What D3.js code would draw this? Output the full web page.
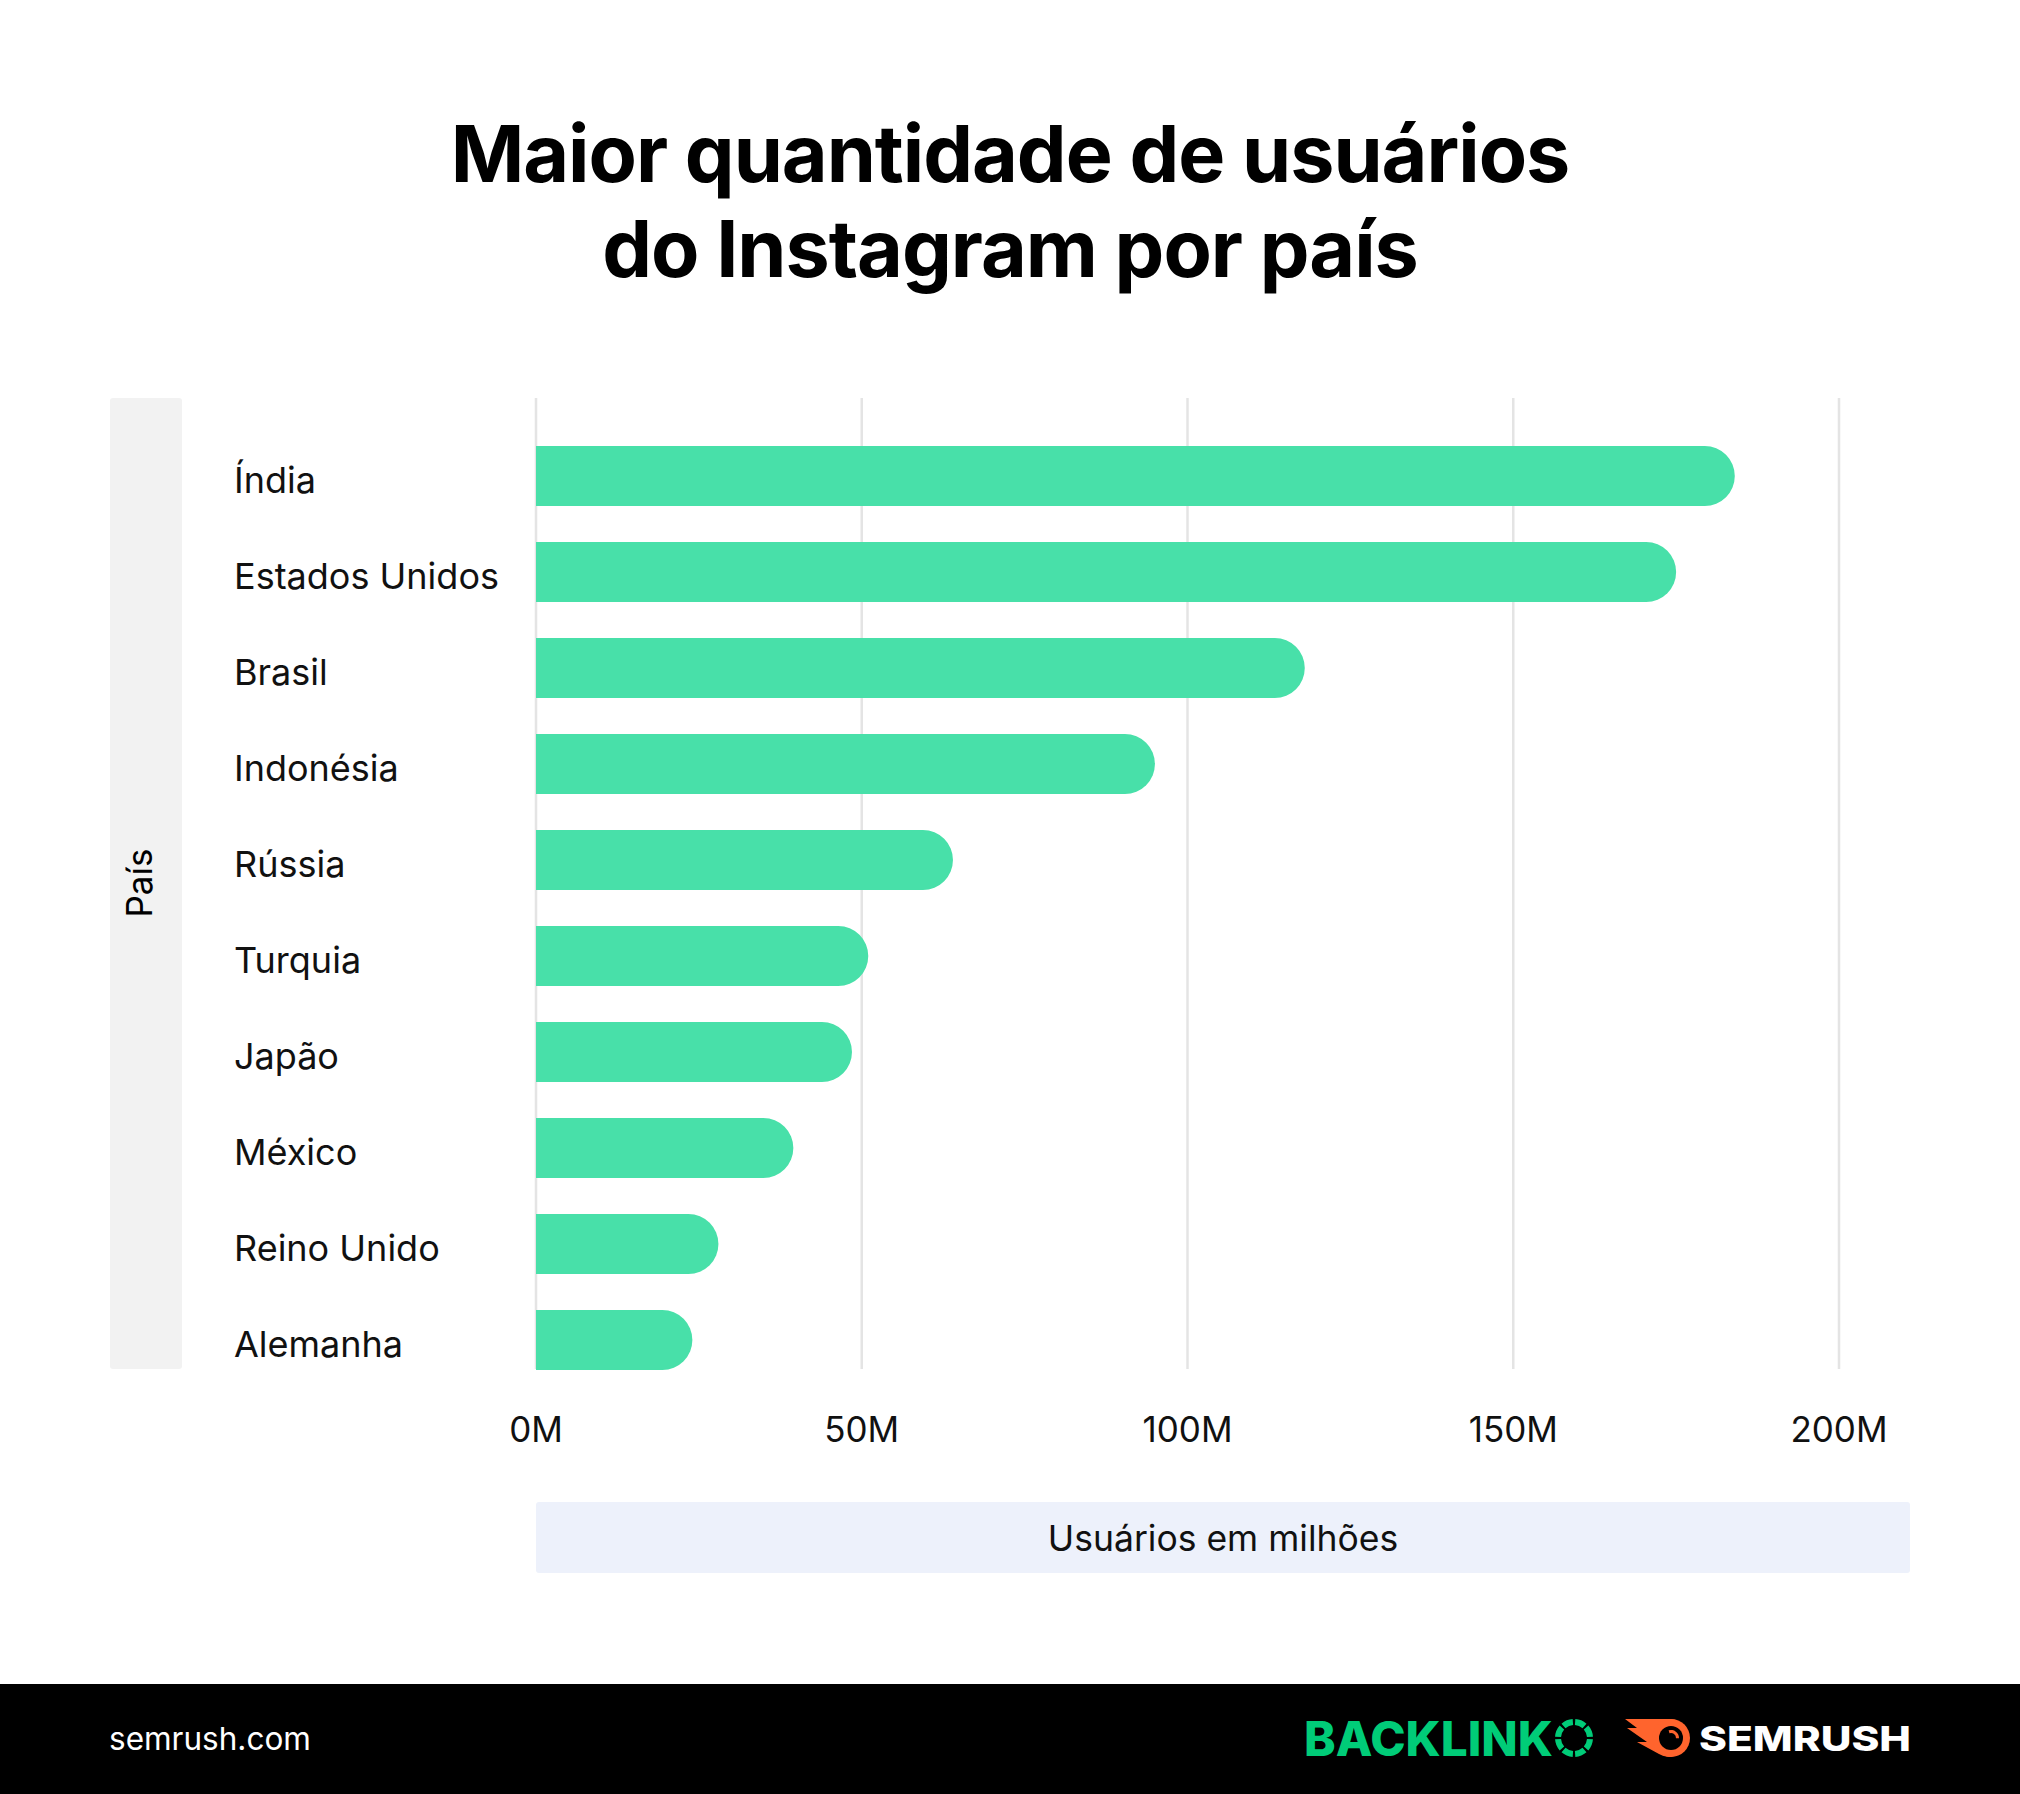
<!DOCTYPE html>
<html>
<head>
<meta charset="utf-8">
<script src="https://cdn.jsdelivr.net/npm/d3@7"></script>
<style>
  body { margin: 0; background: #fff; }
  svg { display: block; font-family: Inter, 'Noto Sans', sans-serif; }
</style>
</head>
<body>
<div id="chart"></div>
<script>
const countries = ['Índia', 'Estados Unidos', 'Brasil', 'Indonésia', 'Rússia', 'Turquia', 'Japão', 'México', 'Reino Unido', 'Alemanha']
const users = [184, 175, 118, 95, 64, 51, 48.5, 39.5, 28, 24]
const ticks = [0, 50, 100, 150, 200]
const titleLines = ['Maior quantidade de usuários', 'do Instagram por país']

const width = 2020
const height = 1794

const svg = d3.select('#chart').append('svg').attr('width', width).attr('height', height)

// title
svg
  .append('g')
  .selectAll('text')
  .data(titleLines)
  .enter()
  .append('text')
  .attr('x', width / 2)
  .attr('y', (d, i) => 182 + i * 95)
  .attr('text-anchor', 'middle')
  .style('font-size', '79px')
  .style('font-weight', 700)
  .style('letter-spacing', '-1px')
  .text((d) => d)

const x = d3.scaleLinear().domain([0, 200]).range([536, 1839])
const y = d3.scaleBand().domain(countries).range([446, 1370]).paddingInner(0.375).paddingOuter(0)

// y axis title panel
svg.append('rect').attr('x', 110).attr('y', 398).attr('width', 72).attr('height', 971).attr('rx', 3).attr('fill', '#f2f2f2')
svg
  .append('text')
  .attr('transform', 'translate(152,883) rotate(-90)')
  .attr('text-anchor', 'middle')
  .style('font-size', '35px')
  .text('País')

// grid lines
svg
  .append('g')
  .selectAll('line')
  .data(ticks)
  .enter()
  .append('line')
  .attr('x1', (d) => x(d))
  .attr('x2', (d) => x(d))
  .attr('y1', 398)
  .attr('y2', 1369)
  .attr('stroke', '#e4e4e4')
  .attr('stroke-width', 2.5)

// bars: rounded on the right end only
const bw = y.bandwidth()
const r = bw / 2
svg
  .append('g')
  .selectAll('path')
  .data(countries)
  .enter()
  .append('path')
  .attr('fill', '#48e0a9')
  .attr('d', (d, i) => {
    const x0 = x(0)
    const x1 = x(users[i])
    const y0 = y(d)
    const p = d3.path()
    p.moveTo(x0, y0)
    p.lineTo(x1 - r, y0)
    p.arc(x1 - r, y0 + r, r, -Math.PI / 2, Math.PI / 2)
    p.lineTo(x0, y0 + bw)
    p.closePath()
    return p.toString()
  })

// category labels
svg
  .append('g')
  .selectAll('text')
  .data(countries)
  .enter()
  .append('text')
  .attr('x', 234)
  .attr('y', (d) => y(d) + bw / 2 + 17)
  .style('font-size', '36px')
  .attr('fill', '#111')
  .text((d) => d)

// tick labels
svg
  .append('g')
  .selectAll('text')
  .data(ticks)
  .enter()
  .append('text')
  .attr('x', (d) => x(d))
  .attr('y', 1442)
  .attr('text-anchor', 'middle')
  .style('font-size', '35px')
  .attr('fill', '#111')
  .text((d) => d + 'M')

// x axis title panel
svg.append('rect').attr('x', 536).attr('y', 1502).attr('width', 1374).attr('height', 71).attr('rx', 3).attr('fill', '#edf1fb')
svg
  .append('text')
  .attr('x', (536 + 1910) / 2)
  .attr('y', 1551)
  .attr('text-anchor', 'middle')
  .style('font-size', '35.5px')
  .attr('fill', '#111')
  .text('Usuários em milhões')

// footer
svg.append('rect').attr('x', 0).attr('y', 1684).attr('width', width).attr('height', height - 1684).attr('fill', '#000')
svg.append('text').attr('x', 109).attr('y', 1750).attr('fill', '#fff').style('font-size', '31.5px').text('semrush.com')

// backlinko logo
svg
  .append('text')
  .attr('x', 1304)
  .attr('y', 1756)
  .attr('fill', '#00cc78')
  .attr('textLength', 249)
  .attr('lengthAdjust', 'spacingAndGlyphs')
  .style('font-size', '48px')
  .style('font-weight', 800)
  .text('BACKLINK')
const ring = d3.arc().innerRadius(13).outerRadius(19)
const ringParts = d3.range(8)
svg
  .append('g')
  .attr('transform', 'translate(1574,1738)')
  .selectAll('path')
  .data(ringParts)
  .enter()
  .append('path')
  .attr('fill', '#00cc78')
  .attr('d', (d) => ring({ startAngle: (d * Math.PI) / 4 + 0.07, endAngle: ((d + 1) * Math.PI) / 4 - 0.07 }))

// semrush logo
const icon = svg.append('g').attr('transform', 'translate(1671,1738)')
icon
  .append('path')
  .attr('fill', '#ff642d')
  .attr('d', 'M0,-19 L-46,-19 L-34,-10 L-44,-10 L-24,4 L-34,4 L-12,16 A19,19 0 1,0 0,-19 Z')
icon.append('circle').attr('r', 19).attr('fill', '#ff642d')
icon.append('circle').attr('r', 12).attr('fill', '#000')
icon
  .append('path')
  .attr('fill', '#ff642d')
  .attr('d', d3.arc().innerRadius(5).outerRadius(8)({ startAngle: -0.3, endAngle: 1.6 }))
svg
  .append('text')
  .attr('x', 1699)
  .attr('y', 1751)
  .attr('fill', '#fff')
  .attr('textLength', 212)
  .attr('lengthAdjust', 'spacingAndGlyphs')
  .style('font-size', '34px')
  .style('font-weight', 800)
  .text('SEMRUSH')
</script>
</body>
</html>
